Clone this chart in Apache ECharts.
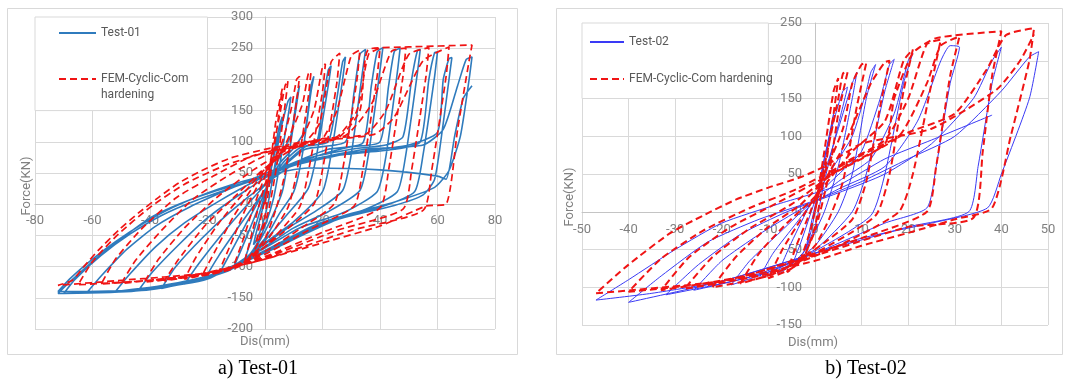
<!DOCTYPE html>
<html lang="en" style="height: 100%">
<head>
<meta charset="utf-8">
<title>Hysteresis curves Test-01 / Test-02</title>
</head>
<body style="height: 100%; margin: 0; background: #fff">
<div id="container" style="width: 1065px; height: 383px"></div>

<script type="text/javascript" src="https://cdn.jsdelivr.net/npm/echarts@6/dist/echarts.min.js"></script>

<script type="text/javascript">

// axis ranges / ticks
var xTicks01 = [-80, 80, 20];
var yTicks01 = [-200, 300, 50];
var xTicks02 = [-50, 50, 10];
var yTicks02 = [-150, 250, 50];

// Test-01 measured loops [dis, force], one array per cycle
var test01Cycles = [
    [[0,0],[1,30],[3,80],[5,125],[6,140],[5,110],[3,50],[1,0],[-1,-35],[-3,-58],[-4,-65],[-3,-45],[-1,-10],[1,30]],
    [[3,75],[6,130],[8,165],[9,172],[8,140],[5,60],[3,10],[0,-35],[-3,-65],[-6,-85],[-7,-88],[-5,-60],[-2,-15],[1,30],[5,75]],
    [[9,110],[11,170],[12,190],[11,160],[8,70],[6,20],[2,-25],[-2,-60],[-6,-88],[-10,-100],[-11,-102],[-8,-70],[-4,-25],[0,20],[5,65],[10,90]],
    [[14,120],[16,190],[17,205],[16,180],[13,80],[10,20],[5,-15],[0,-55],[-8,-92],[-14,-108],[-16,-112],[-12,-78],[-7,-35],[-1,15],[6,65],[12,90]],
    [[18,100],[20,160],[22,215],[23,222],[22,190],[18,80],[15,25],[8,-15],[0,-58],[-10,-100],[-21,-120],[-16,-82],[-9,-35],[-2,10],[6,60],[14,92]],
    [[22,100],[25,170],[27,228],[28,236],[27,200],[23,80],[20,20],[10,-28],[0,-62],[-12,-105],[-28,-128],[-23,-95],[-15,-48],[-6,0],[4,50],[14,88]],
    [[28,100],[31,180],[33,240],[35,248],[34,215],[30,80],[27,22],[18,-10],[8,-38],[0,-64],[-15,-110],[-36,-135],[-31,-100],[-22,-55],[-12,-12],[0,32],[12,70],[22,88]],
    [[34,98],[37,190],[39,244],[41,251],[40,215],[36,80],[33,22],[22,-12],[10,-38],[0,-68],[-20,-120],[-44,-138],[-39,-108],[-30,-65],[-20,-22],[-8,18],[5,55],[20,80],[30,92]],
    [[40,100],[43,190],[45,245],[47,250],[46,210],[42,75],[39,20],[28,-12],[12,-38],[0,-70],[-20,-118],[-52,-140],[-47,-112],[-38,-68],[-28,-30],[-16,5],[-3,38],[12,70],[30,88],[42,95]],
    [[48,108],[51,200],[53,246],[54,248],[53,210],[49,80],[46,20],[35,-8],[18,-32],[0,-74],[-20,-118],[-40,-137],[-62,-142],[-57,-115],[-48,-72],[-38,-35],[-26,-4],[-12,25],[5,58],[25,78],[45,88]],
    [[54,100],[57,200],[59,243],[60,244],[59,205],[55,80],[52,20],[40,-5],[20,-30],[0,-76],[-20,-118],[-45,-139],[-70,-143],[-66,-120],[-57,-82],[-47,-48],[-36,-18],[-24,6],[-8,32],[10,62],[30,82],[50,95]],
    [[60,115],[62,200],[64,233],[65,235],[64,200],[62,130],[59,40],[55,15],[45,-2],[25,-25],[0,-78],[-20,-117],[-45,-138],[-72,-143],[-68,-125],[-59,-88],[-49,-52],[-40,-22],[-30,0],[-18,20],[-3,40],[15,70],[35,88],[55,95]],
    [[62,120],[67,190],[70,232],[72,236],[71,200],[68,110],[64,54],[59,27],[44,2],[25,-22],[0,-76],[-20,-115],[-45,-137],[-72,-140],[-68,-120],[-60,-88],[-52,-60],[-42,-30],[-32,-5],[-20,18],[-5,40],[15,58],[40,55],[60,45]],
    [[63,40],[66,110],[69,170],[72,190]]
];

// FEM cyclic combined hardening, specimen 1
var fem01Cycles = [
    [[0,0],[2,70],[4,140],[6,185],[5,150],[2,50],[0,-20],[-2,-55],[-3,-62],[-2,-35],[0,10],[2,70]],
    [[5,140],[7,190],[8,198],[7,160],[4,60],[1,-15],[-3,-68],[-6,-88],[-7,-90],[-5,-55],[-2,0],[2,60],[6,100]],
    [[9,150],[11,200],[12,205],[11,165],[7,50],[4,-5],[0,-55],[-6,-90],[-11,-100],[-8,-62],[-4,-5],[1,55],[7,95]],
    [[13,160],[15,208],[16,212],[15,170],[11,50],[8,-5],[0,-62],[-9,-98],[-16,-108],[-12,-65],[-7,-10],[0,50],[8,95],[12,100]],
    [[17,150],[20,220],[21,225],[20,180],[15,50],[12,-5],[0,-68],[-10,-102],[-22,-115],[-17,-72],[-11,-20],[-3,35],[6,85],[14,100]],
    [[19,130],[23,228],[26,242],[25,195],[20,55],[17,0],[5,-50],[-10,-100],[-28,-120],[-24,-85],[-16,-30],[-7,20],[3,70],[15,100],[20,105]],
    [[25,150],[30,238],[33,247],[32,200],[27,55],[24,0],[12,-40],[0,-76],[-15,-106],[-35,-123],[-30,-88],[-21,-35],[-11,10],[0,58],[12,95],[25,108]],
    [[32,150],[36,240],[40,250],[39,205],[34,55],[31,-3],[15,-42],[0,-80],[-20,-112],[-42,-125],[-37,-88],[-28,-38],[-17,10],[-4,55],[10,92],[28,110]],
    [[37,160],[44,245],[49,250],[48,205],[43,55],[40,-6],[20,-45],[0,-84],[-20,-110],[-50,-127],[-45,-90],[-36,-42],[-25,8],[-12,48],[2,82],[20,105],[35,112]],
    [[42,150],[50,240],[57,251],[56,205],[51,55],[48,-8],[25,-42],[0,-86],[-25,-115],[-57,-128],[-52,-88],[-43,-40],[-31,10],[-18,45],[-4,78],[15,100],[38,112]],
    [[45,140],[55,230],[64,252],[63,205],[58,55],[55,-10],[30,-42],[0,-88],[-30,-118],[-65,-129],[-60,-92],[-51,-48],[-40,-5],[-28,32],[-14,62],[2,85],[25,105],[33,150],[36,248]],
    [[50,252],[72,255],[71,230],[67,120],[63,0],[56,-3],[40,-35],[20,-62],[0,-88],[-20,-110],[-50,-122],[-72,-130],[-67,-122],[-63,-100],[-58,-74],[-51,-42],[-44,-14],[-37,11],[-30,34],[-21,56],[-12,74],[0,88],[8,95]]
];

// Test-02 measured loops
var test02Cycles = [
    [[0,0],[1,40],[3,100],[4,130],[3,95],[1,30],[-1,-30],[-2,-50],[-1,-20],[1,35],[2,70]],
    [[4,120],[6,160],[7,165],[5,115],[2,40],[0,-20],[-3,-60],[-5,-72],[-3,-40],[0,15],[3,70],[5,110]],
    [[8,170],[9,185],[8,150],[5,60],[2,0],[-2,-50],[-6,-75],[-8,-82],[-5,-40],[-1,10],[4,60],[8,100]],
    [[11,160],[12,185],[13,195],[11,150],[8,50],[5,0],[0,-45],[-6,-72],[-12,-88],[-9,-55],[-4,-15],[1,25],[6,55],[10,80]],
    [[14,150],[16,195],[17,202],[15,160],[11,50],[8,0],[0,-50],[-10,-80],[-18,-97],[-14,-65],[-8,-30],[-2,5],[5,40],[12,70]],
    [[17,130],[20,200],[21,210],[19,170],[15,50],[12,-5],[0,-52],[-10,-80],[-26,-104],[-20,-65],[-12,-30],[-4,0],[5,30],[15,60]],
    [[22,120],[27,200],[29,220],[31,218],[29,170],[26,60],[24,5],[15,-15],[0,-55],[-15,-88],[-32,-110],[-25,-70],[-16,-30],[-6,0],[5,25],[15,50]],
    [[25,90],[34,150],[38,200],[40,218],[38,170],[35,60],[33,0],[20,-20],[0,-55],[-20,-92],[-40,-120],[-33,-85],[-23,-40],[-12,-10],[0,15],[10,40],[20,70]],
    [[30,100],[40,160],[46,205],[48,212],[46,150],[40,50],[37,5],[25,-15],[10,-35],[0,-55],[-20,-92],[-35,-108],[-47,-117],[-40,-90],[-30,-50],[-20,-15],[-8,10],[5,35],[15,70]],
    [[25,95],[38,128]]
];

// FEM cyclic combined hardening, specimen 2
var fem02Cycles = [
    [[0,0],[2,80],[4,160],[5,177],[4,130],[2,50],[0,-20],[-2,-55],[-3,-62],[-1,-25],[1,30],[3,90]],
    [[5,150],[6,183],[7,185],[5,130],[3,50],[0,-25],[-3,-65],[-6,-80],[-4,-45],[-1,0],[2,50],[6,110]],
    [[8,170],[10,195],[11,197],[9,140],[6,40],[3,-10],[0,-45],[-5,-75],[-10,-88],[-7,-50],[-3,-10],[1,30],[6,85]],
    [[12,170],[15,198],[16,200],[14,140],[11,40],[8,-10],[0,-50],[-8,-80],[-16,-95],[-12,-55],[-6,-15],[0,20],[8,80]],
    [[15,120],[19,200],[21,215],[19,160],[16,50],[13,-5],[0,-55],[-10,-85],[-22,-100],[-17,-60],[-10,-20],[-3,10],[5,60],[15,95]],
    [[20,150],[24,222],[27,228],[25,170],[21,50],[18,0],[5,-45],[-10,-82],[-28,-102],[-22,-60],[-14,-22],[-5,10],[5,55],[18,100]],
    [[24,170],[27,220],[31,232],[29,180],[26,60],[24,0],[10,-35],[0,-55],[-15,-85],[-33,-104],[-27,-60],[-18,-20],[-8,12],[2,45],[15,90]],
    [[17,150],[21,210],[26,230],[40,239],[38,180],[36,80],[34,-8],[20,-20],[0,-58],[-20,-92],[-40,-106],[-33,-62],[-24,-25],[-14,5],[-4,30],[10,75],[20,105]],
    [[30,130],[37,190],[41,234],[47,243],[46,200],[42,100],[38,5],[30,-10],[20,-28],[10,-45],[0,-65],[-20,-92],[-47,-108],[-40,-70],[-31,-28],[-24,-5],[-17,16],[-10,32],[-3,46],[2,60]],
    [[10,90],[25,110],[39,162],[44,200],[47,235]]
];

var FEM_NAME = 'FEM-Cyclic-Com hardening';
var GRID_COLOR = '#d9d9d9';
var LABEL_COLOR = '#808080';

var dom = document.getElementById('container');
var myChart = echarts.init(dom, null, { renderer: 'canvas' });

// axis drawn through the origin: shift it from its grid edge by `offset` px
function valueAxis(ticks, gridIndex, margin, offset) {
    return {
        type: 'value',
        gridIndex: gridIndex,
        min: ticks[0],
        max: ticks[1],
        interval: ticks[2],
        offset: offset,
        axisLine: { onZero: false, lineStyle: { color: '#c4c4c4', width: 1 } },
        axisTick: { show: false },
        axisLabel: { color: LABEL_COLOR, fontSize: 13, fontFamily: 'Roboto', margin: margin },
        splitLine: { show: true, lineStyle: { color: GRID_COLOR, width: 1 } }
    };
}

function legendBox(x0, x1, y0, y1) {
    return {
        silent: true,
        itemStyle: { color: '#fff', borderColor: GRID_COLOR, borderWidth: 1 },
        data: [[{ coord: [x0, y1] }, { coord: [x1, y0] }]]
    };
}

var option = {
    animation: false,
    backgroundColor: '#fff',
    grid: [
        { left: 35, top: 17, width: 460, height: 312 },
        { left: 582, top: 23, width: 466, height: 302 }
    ],
    xAxis: [valueAxis(xTicks01, 0, 10, -124.8), valueAxis(xTicks02, 1, 11, -113.25)],
    yAxis: [valueAxis(yTicks01, 0, 12, -230), valueAxis(yTicks02, 1, 13, -233)],
    legend: [
        {
            orient: 'vertical',
            left: 58,
            top: 25,
            padding: 0,
            itemWidth: 37,
            itemHeight: 14,
            itemGap: 14,
            data: ['Test-01', FEM_NAME],
            itemStyle: { opacity: 0 },
            textStyle: { color: '#595959', fontSize: 12, fontFamily: 'Roboto', lineHeight: 16 },
            formatter: function (name) {
                return name === FEM_NAME ? '\nFEM-Cyclic-Com\nhardening' : name;
            },
            selectedMode: false
        },
        {
            orient: 'vertical',
            left: 589,
            top: 34,
            padding: 0,
            itemWidth: 34,
            itemHeight: 14,
            itemGap: 21,
            data: ['Test-02', FEM_NAME],
            itemStyle: { opacity: 0 },
            textStyle: { color: '#595959', fontSize: 12, fontFamily: 'Roboto', lineHeight: 16 },
            selectedMode: false
        }
    ],
    series: [
        {
            name: 'Test-01',
            type: 'line',
            xAxisIndex: 0,
            yAxisIndex: 0,
            symbol: 'none',
            smooth: 0.2,
            lineStyle: { color: '#2f7bbd', width: 1.6 },
            itemStyle: { color: '#2f7bbd' },
            markArea: legendBox(-80, -20, 150, 300),
            data: test01Cycles.flat()
        },
        {
            name: FEM_NAME,
            type: 'line',
            xAxisIndex: 0,
            yAxisIndex: 0,
            symbol: 'none',
            smooth: 0.2,
            lineStyle: { color: '#f01414', width: 1.7, type: [7, 4] },
            itemStyle: { color: '#f01414' },
            data: fem01Cycles.flat()
        },
        {
            name: 'Test-02',
            type: 'line',
            xAxisIndex: 1,
            yAxisIndex: 1,
            symbol: 'none',
            smooth: 0.2,
            lineStyle: { color: '#3a3af5', width: 1 },
            itemStyle: { color: '#3a3af5' },
            markArea: legendBox(-50, -10, 150, 250),
            data: test02Cycles.flat()
        },
        {
            name: FEM_NAME,
            type: 'line',
            xAxisIndex: 1,
            yAxisIndex: 1,
            symbol: 'none',
            smooth: 0.2,
            lineStyle: { color: '#f01414', width: 2, type: [7, 4] },
            itemStyle: { color: '#f01414' },
            data: fem02Cycles.flat()
        }
    ],
    graphic: [
        { type: 'rect', z: 0, shape: { x: 7.5, y: 8.5, width: 510, height: 346 },
          style: { fill: 'none', stroke: GRID_COLOR, lineWidth: 1 } },
        { type: 'rect', z: 0, shape: { x: 556.5, y: 8.5, width: 506, height: 346 },
          style: { fill: 'none', stroke: GRID_COLOR, lineWidth: 1 } },
        { type: 'text', x: 27, y: 186, rotation: Math.PI / 2,
          style: { text: 'Force(KN)', font: '13px Roboto', fill: LABEL_COLOR, textAlign: 'center', textVerticalAlign: 'middle' } },
        { type: 'text', x: 265, y: 342,
          style: { text: 'Dis(mm)', font: '13px Roboto', fill: LABEL_COLOR, textAlign: 'center', textVerticalAlign: 'middle' } },
        { type: 'text', x: 570, y: 197, rotation: Math.PI / 2,
          style: { text: 'Force(KN)', font: '13px Roboto', fill: LABEL_COLOR, textAlign: 'center', textVerticalAlign: 'middle' } },
        { type: 'text', x: 813, y: 343,
          style: { text: 'Dis(mm)', font: '13px Roboto', fill: LABEL_COLOR, textAlign: 'center', textVerticalAlign: 'middle' } },
        { type: 'text', x: 258, y: 369,
          style: { text: 'a) Test-01', font: '20px "Liberation Serif"', fill: '#000', textAlign: 'center', textVerticalAlign: 'middle' } },
        { type: 'text', x: 866, y: 369,
          style: { text: 'b) Test-02', font: '20px "Liberation Serif"', fill: '#000', textAlign: 'center', textVerticalAlign: 'middle' } }
    ]
};

myChart.setOption(option);

window.addEventListener('resize', myChart.resize);
</script>
</body>
</html>
